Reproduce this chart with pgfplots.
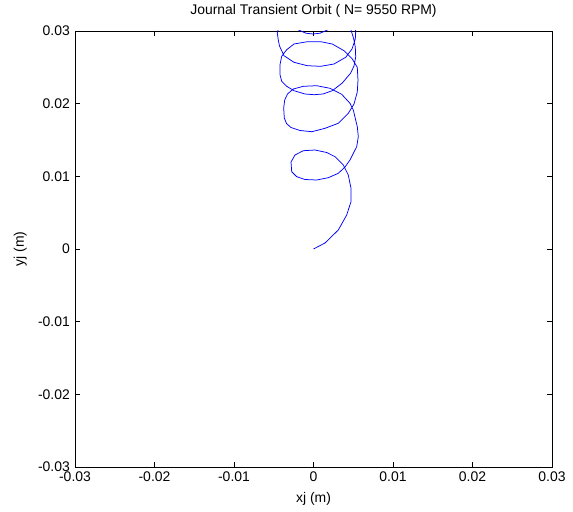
\documentclass[border=0pt]{standalone}
\usepackage{fontspec}
\setmainfont{Liberation Sans}
\usepackage{pgfplots}
\pgfplotsset{compat=1.18}
\begin{document}
\begin{tikzpicture}
\path[use as bounding box] (-75bp,-45bp) rectangle (498bp,467bp);
\begin{axis}[
  at={(0,0)}, anchor=south west,
  width=477bp, height=436bp, scale only axis,
  font=\fontsize{14}{17}\selectfont,
  xmin=-0.03, xmax=0.03, ymin=-0.03, ymax=0.03,
  xtick={-0.03,-0.02,-0.01,0,0.01,0.02,0.03},
  xticklabels={-0.03,-0.02,-0.01,0,0.01,0.02,0.03},
  ytick={-0.03,-0.02,-0.01,0,0.01,0.02,0.03},
  yticklabels={-0.03,-0.02,-0.01,0,0.01,0.02,0.03},
  scaled ticks=false,
  tick align=inside, xtick pos=both, ytick pos=both,
  major tick length=5bp,
  every tick/.style={black, line width=0.7bp},
  axis line style={line width=0.8bp},
  xticklabel style={inner sep=0pt, anchor=north, yshift=-5bp},
  yticklabel style={inner sep=0pt, anchor=east, xshift=-5bp},
  title={Journal Transient Orbit ( N= 9550 RPM)},
  title style={at={(axis description cs:0.5,1)}, anchor=base, yshift=11bp, inner sep=0pt},
  xlabel={xj (m)},
  xlabel style={at={(axis description cs:0.5,0)}, anchor=base, yshift=-35bp, inner sep=0pt},
  ylabel={yj (m)},
  ylabel style={at={(axis description cs:-0.107,0.5)}, anchor=base, rotate=0, inner sep=0pt},
]
\addplot[blue, line width=0.75bp] coordinates {
(0,0) (0.001447,0.000826) (0.003120,0.002615) (0.004176,0.004679) (0.004717,0.006509)
(0.004717,0.008353) (0.004377,0.010183) (0.003749,0.011559) (0.002704,0.012702) (0.001660,0.013279)
(0.000189,0.013624) (-0.001283,0.013527) (-0.002327,0.012935) (-0.002830,0.011972) (-0.002742,0.010637)
(-0.002113,0.009949) (-0.001069,0.009564) (0.000403,0.009495) (0.001862,0.009812) (0.003120,0.010417)
(0.003962,0.011284) (0.004591,0.012247) (0.005434,0.014078) (0.005635,0.015454) (0.005509,0.016830)
(0.005006,0.019128) (0.004591,0.020050) (0.003547,0.021288) (0.002075,0.022114) (0.000403,0.022472)
(-0.001283,0.022389) (-0.002541,0.022018) (-0.003270,0.021330) (-0.003623,0.020504) (-0.003749,0.019403)
(-0.003673,0.018027) (-0.003396,0.017270) (-0.002830,0.016720) (-0.001698,0.016307) (-0.000189,0.016142)
(0.001447,0.016610) (0.003120,0.017298) (0.004377,0.018674) (0.005094,0.019953) (0.005509,0.021605)
(0.005597,0.023256) (0.005509,0.025004) (0.004881,0.026146) (0.003836,0.027288) (0.002365,0.028210)
(0.000906,0.028527) (-0.000780,0.028527) (-0.002453,0.028210) (-0.003371,0.027426) (-0.004000,0.026518)
(-0.004214,0.025362) (-0.004214,0.023986) (-0.004000,0.023077) (-0.003371,0.022389) (-0.002453,0.021784)
(-0.001069,0.021330) (0.000063,0.021233) (0.001195,0.021330) (0.002365,0.021784) (0.003623,0.022843)
(0.004679,0.024219) (0.005094,0.025183) (0.005308,0.026421) (0.005258,0.027797) (0.005031,0.029035)
(0.004717,0.030136) (0.003836,0.031513) (0.002327,0.032476) (0.000189,0.032889) (-0.001950,0.032476)
(-0.003585,0.031513) (-0.004403,0.030412) (-0.004554,0.029724) (-0.004428,0.028761) (-0.004277,0.027935)
(-0.003711,0.026600) (-0.002453,0.025692) (-0.000780,0.025224) (0.000906,0.025141) (0.002579,0.025458)
(0.004050,0.026380) (0.004843,0.027522) (0.005258,0.028898) (0.005308,0.029999) (0.005094,0.031237)
(0.004088,0.032889) (0.002075,0.033990) (-0.000189,0.034265) (-0.002327,0.033852) (-0.003711,0.033026)
(-0.004214,0.032063) (-0.003585,0.031237) (-0.002579,0.030550) (-0.001698,0.030050) (-0.000943,0.029696)
(-0.000063,0.029586) (0.000818,0.029696) (0.001572,0.030050) (0.002704,0.030687) (0.003962,0.031788)
};
\end{axis}
\end{tikzpicture}
\end{document}
